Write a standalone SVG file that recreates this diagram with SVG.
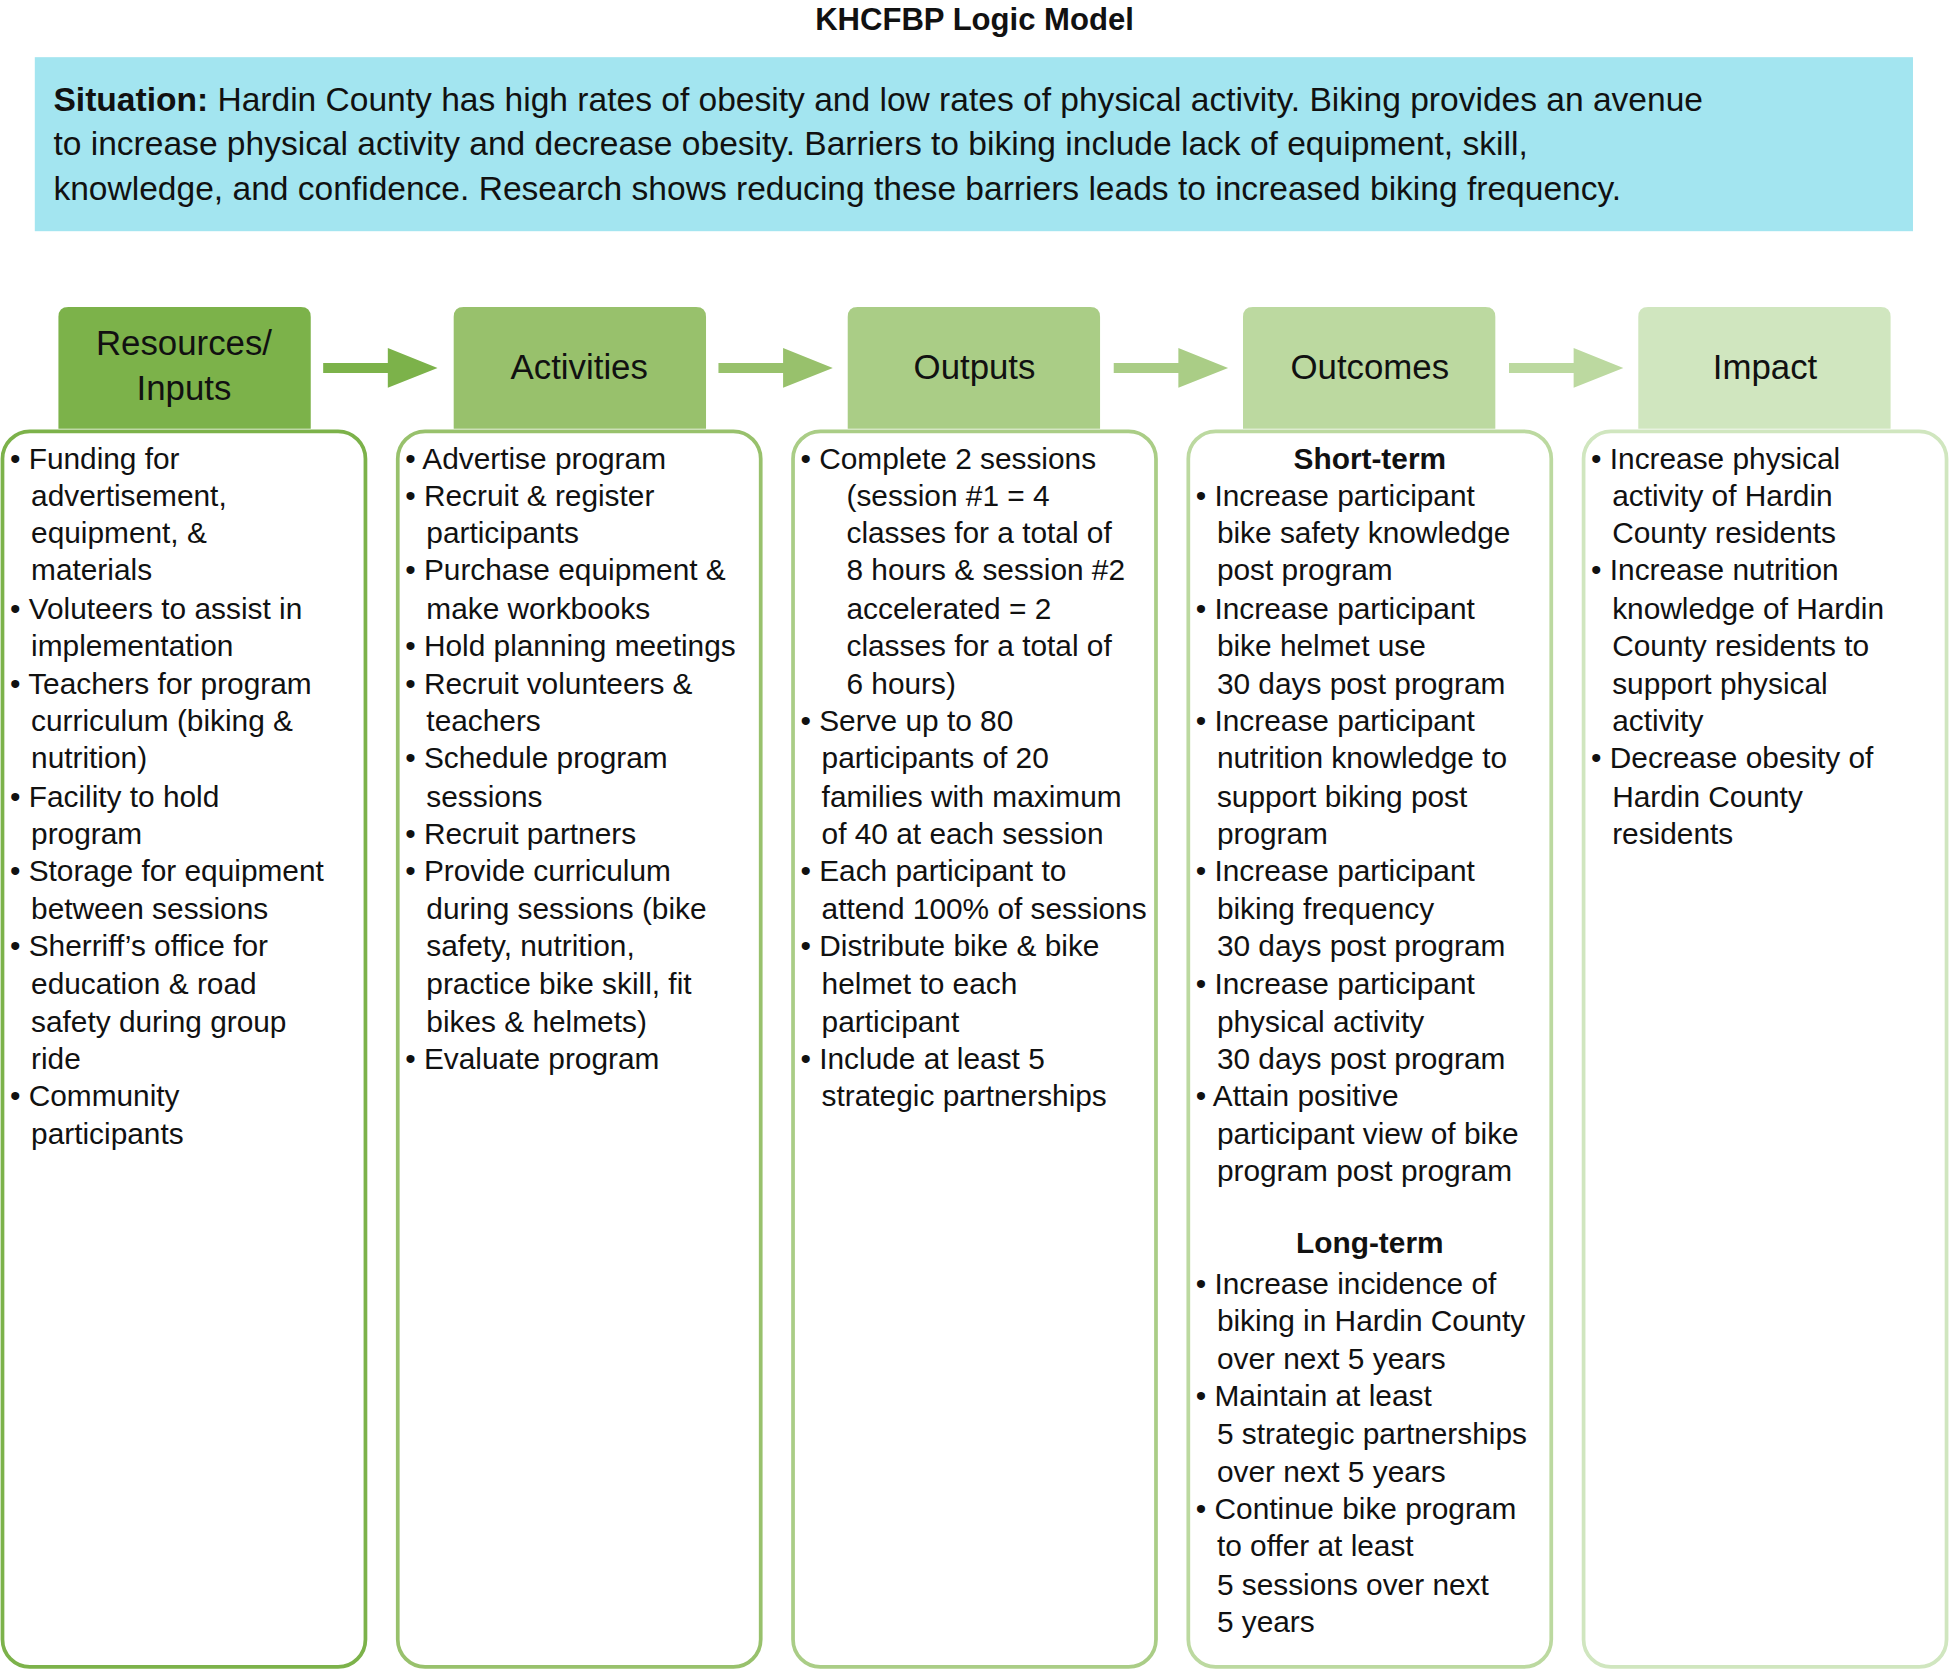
<svg xmlns="http://www.w3.org/2000/svg" width="1949" height="1672" viewBox="0 0 1949 1672">
<style>
text{font-family:"Liberation Sans",Arial,sans-serif;fill:#111}
.t{font-size:24px}
.h{font-size:28px;text-anchor:middle}
.b{font-weight:bold}
.box{fill:#fff;stroke-width:3}
</style>
<rect width="1949" height="1672" fill="#fff"/>
<g transform="scale(1.243)">
<text x="784" y="24" class="b" style="font-size:25px;text-anchor:middle">KHCFBP Logic Model</text>
<g id="situation">
<rect x="28" y="46" width="1511" height="140" fill="#a3e5f0"/>
<text style="font-size:27px"><tspan x="43" y="89"><tspan class="b">Situation:</tspan> Hardin County has high rates of obesity and low rates of physical activity. Biking provides an avenue</tspan><tspan x="43" y="125">to increase physical activity and decrease obesity. Barriers to biking include lack of equipment, skill,</tspan><tspan x="43" y="161">knowledge, and confidence. Research shows reducing these barriers leads to increased biking frequency.</tspan></text>
</g>
<g id="connectors">
<path d="M260 292h52v-12l40 16-40 16v-12h-52z" fill="#7cb24a"/>
<path d="M578 292h52v-12l40 16-40 16v-12h-52z" fill="#98c16c"/>
<path d="M896 292h52v-12l40 16-40 16v-12h-52z" fill="#aacd86"/>
<path d="M1214 292h52v-12l40 16-40 16v-12h-52z" fill="#bcd9a0"/>
</g>
<g id="resources">
<path d="M47 345V255q0-8 8-8h187q8 0 8 8v90z" fill="#7cb24a"/>
<rect class="box" x="2" y="347" width="292" height="994" rx="22" stroke="#7cb24a"/>
<text class="h"><tspan x="148" y="286">Resources/</tspan><tspan x="148" y="322">Inputs</tspan></text>
<text class="t">
<tspan x="8" y="377">• Funding for</tspan><tspan x="25" y="407">advertisement,</tspan><tspan x="25" y="437">equipment, &amp;</tspan><tspan x="25" y="467">materials</tspan>
<tspan x="8" y="498">• Voluteers to assist in</tspan><tspan x="25" y="528">implementation</tspan>
<tspan x="8" y="558">• Teachers for program</tspan><tspan x="25" y="588">curriculum (biking &amp;</tspan><tspan x="25" y="618">nutrition)</tspan>
<tspan x="8" y="649">• Facility to hold</tspan><tspan x="25" y="679">program</tspan>
<tspan x="8" y="709">• Storage for equipment</tspan><tspan x="25" y="739">between sessions</tspan>
<tspan x="8" y="769">• Sherriff’s office for</tspan><tspan x="25" y="800">education &amp; road</tspan><tspan x="25" y="830">safety during group</tspan><tspan x="25" y="860">ride</tspan>
<tspan x="8" y="890">• Community</tspan><tspan x="25" y="920">participants</tspan>
</text>
</g>
<g id="activities">
<path d="M365 345V255q0-8 8-8h187q8 0 8 8v90z" fill="#98c16c"/>
<rect class="box" x="320" y="347" width="292" height="994" rx="22" stroke="#98c16c"/>
<text class="h" x="466" y="305">Activities</text>
<text class="t">
<tspan x="326" y="377">• Advertise program</tspan>
<tspan x="326" y="407">• Recruit &amp; register</tspan><tspan x="343" y="437">participants</tspan>
<tspan x="326" y="467">• Purchase equipment &amp;</tspan><tspan x="343" y="498">make workbooks</tspan>
<tspan x="326" y="528">• Hold planning meetings</tspan>
<tspan x="326" y="558">• Recruit volunteers &amp;</tspan><tspan x="343" y="588">teachers</tspan>
<tspan x="326" y="618">• Schedule program</tspan><tspan x="343" y="649">sessions</tspan>
<tspan x="326" y="679">• Recruit partners</tspan>
<tspan x="326" y="709">• Provide curriculum</tspan><tspan x="343" y="739">during sessions (bike</tspan><tspan x="343" y="769">safety, nutrition,</tspan><tspan x="343" y="800">practice bike skill, fit</tspan><tspan x="343" y="830">bikes &amp; helmets)</tspan>
<tspan x="326" y="860">• Evaluate program</tspan>
</text>
</g>
<g id="outputs">
<path d="M682 345V255q0-8 8-8h187q8 0 8 8v90z" fill="#aacd86"/>
<rect class="box" x="638" y="347" width="292" height="994" rx="22" stroke="#aacd86"/>
<text class="h" x="784" y="305">Outputs</text>
<text class="t">
<tspan x="644" y="377">• Complete 2 sessions</tspan><tspan x="681" y="407">(session #1 = 4</tspan><tspan x="681" y="437">classes for a total of</tspan><tspan x="681" y="467">8 hours &amp; session #2</tspan><tspan x="681" y="498">accelerated = 2</tspan><tspan x="681" y="528">classes for a total of</tspan><tspan x="681" y="558">6 hours)</tspan>
<tspan x="644" y="588">• Serve up to 80</tspan><tspan x="661" y="618">participants of 20</tspan><tspan x="661" y="649">families with maximum</tspan><tspan x="661" y="679">of 40 at each session</tspan>
<tspan x="644" y="709">• Each participant to</tspan><tspan x="661" y="739">attend 100% of sessions</tspan>
<tspan x="644" y="769">• Distribute bike &amp; bike</tspan><tspan x="661" y="800">helmet to each</tspan><tspan x="661" y="830">participant</tspan>
<tspan x="644" y="860">• Include at least 5</tspan><tspan x="661" y="890">strategic partnerships</tspan>
</text>
</g>
<g id="outcomes">
<path d="M1000 345V255q0-8 8-8h187q8 0 8 8v90z" fill="#bcd9a0"/>
<rect class="box" x="956" y="347" width="292" height="994" rx="22" stroke="#bcd9a0"/>
<text class="h" x="1102" y="305">Outcomes</text>
<text class="t b" x="1102" y="377" text-anchor="middle">Short-term</text>
<text class="t">
<tspan x="962" y="407">• Increase participant</tspan><tspan x="979" y="437">bike safety knowledge</tspan><tspan x="979" y="467">post program</tspan>
<tspan x="962" y="498">• Increase participant</tspan><tspan x="979" y="528">bike helmet use</tspan><tspan x="979" y="558">30 days post program</tspan>
<tspan x="962" y="588">• Increase participant</tspan><tspan x="979" y="618">nutrition knowledge to</tspan><tspan x="979" y="649">support biking post</tspan><tspan x="979" y="679">program</tspan>
<tspan x="962" y="709">• Increase participant</tspan><tspan x="979" y="739">biking frequency</tspan><tspan x="979" y="769">30 days post program</tspan>
<tspan x="962" y="800">• Increase participant</tspan><tspan x="979" y="830">physical activity</tspan><tspan x="979" y="860">30 days post program</tspan>
<tspan x="962" y="890">• Attain positive</tspan><tspan x="979" y="920">participant view of bike</tspan><tspan x="979" y="950">program post program</tspan>
</text>
<text class="t b" x="1102" y="1008" text-anchor="middle">Long-term</text>
<text class="t">
<tspan x="962" y="1041">• Increase incidence of</tspan><tspan x="979" y="1071">biking in Hardin County</tspan><tspan x="979" y="1101">over next 5 years</tspan>
<tspan x="962" y="1131">• Maintain at least</tspan><tspan x="979" y="1162">5 strategic partnerships</tspan><tspan x="979" y="1192">over next 5 years</tspan>
<tspan x="962" y="1222">• Continue bike program</tspan><tspan x="979" y="1252">to offer at least</tspan><tspan x="979" y="1283">5 sessions over next</tspan><tspan x="979" y="1313">5 years</tspan>
</text>
</g>
<g id="impact">
<path d="M1318 345V255q0-8 8-8h187q8 0 8 8v90z" fill="#d0e6bf"/>
<rect class="box" x="1274" y="347" width="292" height="994" rx="22" stroke="#d0e6bf"/>
<text class="h" x="1420" y="305">Impact</text>
<text class="t">
<tspan x="1280" y="377">• Increase physical</tspan><tspan x="1297" y="407">activity of Hardin</tspan><tspan x="1297" y="437">County residents</tspan>
<tspan x="1280" y="467">• Increase nutrition</tspan><tspan x="1297" y="498">knowledge of Hardin</tspan><tspan x="1297" y="528">County residents to</tspan><tspan x="1297" y="558">support physical</tspan><tspan x="1297" y="588">activity</tspan>
<tspan x="1280" y="618">• Decrease obesity of</tspan><tspan x="1297" y="649">Hardin County</tspan><tspan x="1297" y="679">residents</tspan>
</text>
</g>
</g>
</svg>
